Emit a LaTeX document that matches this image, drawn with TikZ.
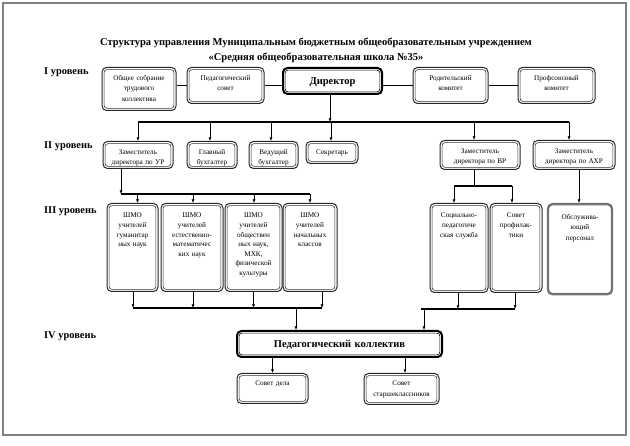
\documentclass[tikz,border=0pt]{standalone}
\usepackage{fontspec}
\setmainfont{Liberation Serif}
\usetikzlibrary{arrows.meta}
\tikzset{
  base/.style={rounded corners=4.5pt, align=center, font=\fontsize{7.2}{10.5}\selectfont},
  dbl/.style={base, draw=black!85, line width=1pt,
    append after command={\pgfextra{\draw[line width=0.6pt, black!80, rounded corners=3pt]
      ([shift={(2.6pt,-2.6pt)}]\tikzlastnode.north west) rectangle ([shift={(-2.6pt,2.6pt)}]\tikzlastnode.south east);}}},
  thk/.style={base, draw=black, line width=2pt, font=\bfseries\fontsize{10.5}{12}\selectfont,
    append after command={\pgfextra{\draw[line width=0.6pt, black, rounded corners=3pt]
      ([shift={(3.1pt,-3.1pt)}]\tikzlastnode.north west) rectangle ([shift={(-3.1pt,3.1pt)}]\tikzlastnode.south east);}}},
  gry/.style={base, draw=black!55, line width=2.4pt},
  small/.style={font=\fontsize{7.2}{9.6}\selectfont},
  mid/.style={font=\fontsize{7.2}{10.2}\selectfont},
  lvl/.style={font=\bfseries\fontsize{10.4}{12}\selectfont, anchor=west, inner sep=0pt},
  bus/.style={line width=1.5pt},
  ln/.style={line width=0.6pt},
  arr/.style={-{Latex[length=3.6pt,width=3pt]}},
}
\newcommand\mkbox[8]{%
  \pgfmathsetmacro\mkW{#4-#2}\pgfmathsetmacro\mkH{#5-#3}%
  \pgfmathsetmacro\mkX{(#2+#4)/2}\pgfmathsetmacro\mkTW{#4-#2-4}%
  \pgfmathsetmacro\mkTD{#5-#3-#6}%
  \node[#7, minimum width=\mkW pt, minimum height=\mkH pt, text width=\mkTW pt,
    text height=#6pt, text depth=\mkTD pt, inner ysep=0pt, inner xsep=2pt, anchor=north]
    (#1) at (\mkX,#3) {#8};}
\begin{document}
\begin{tikzpicture}[x=1pt,y=-1pt]
\useasboundingbox (0,0) rectangle (630,446);
\draw[black!50, line width=2.6pt] (3,3) rectangle (626,435);

\node[font=\bfseries\fontsize{10.5}{15}\selectfont, align=center] (title) at (316,50)
  {Структура управления Муниципальным бюджетным общеобразовательным учреждением\\«Средняя общеобразовательная школа №35»};

\node[lvl] (l1) at (44,72) {I уровень};
\node[lvl] (l2) at (44,146) {II уровень};
\node[lvl] (l3) at (44,211) {III уровень};
\node[lvl] (l4) at (44,336) {IV уровень};

% Level I
\mkbox{obs}{102}{67}{176}{110}{13}{dbl}{Общее собрание\\трудового\\коллектива}
\mkbox{ped}{187}{67}{264}{103}{13}{dbl}{Педагогический\\совет}
\mkbox{dir}{283}{67}{382}{93}{16.5}{thk}{Директор}
\mkbox{rod}{413}{67}{488}{103}{13}{dbl}{Родительский\\комитет}
\mkbox{prof}{518}{67}{595}{103}{13}{dbl}{Профсоюзный\\комитет}

% Level II
\mkbox{dUR}{103}{141}{173}{168}{13}{dbl}{Заместитель\\директора по УР}
\mkbox{glav}{187}{141}{237}{168}{13}{dbl}{Главный\\бухгалтер}
\mkbox{ved}{249}{141}{298}{168}{13}{dbl}{Ведущий\\бухгалтер}
\mkbox{sek}{306}{141}{358}{163}{13}{dbl}{Секретарь}
\mkbox{dVR}{440}{140}{520}{169}{13}{dbl}{Заместитель\\директора по ВР}
\mkbox{dAH}{533}{140}{615}{169}{13}{dbl}{Заместитель\\директора по АХР}

% Level III
\mkbox{s1}{107}{203}{158}{291}{14.5}{dbl,small}{ШМО\\учителей\\гуманитар\\ных наук}
\mkbox{s2}{161}{203}{223}{291}{14.5}{dbl,small}{ШМО\\учителей\\естественно-\\математичес\\ких наук}
\mkbox{s3}{225}{203}{282}{291}{14.5}{dbl,small}{ШМО\\учителей\\обществен\\ных наук,\\МХК,\\физической\\культуры}
\mkbox{s4}{283}{203}{337}{291}{14.5}{dbl,small}{ШМО\\учителей\\начальных\\классов}
\mkbox{soc}{430}{203}{488}{292}{14.5}{dbl,small}{Социально-\\педагогиче\\ская служба}
\mkbox{spr}{490}{203}{542}{292}{14.5}{dbl,small}{Совет\\профилак-\\тики}
\mkbox{obsl}{548}{203}{612}{293}{15.5}{gry,mid}{Обслужива-\\ющий\\персонал}

% Level IV
\mkbox{pk}{237}{330}{442}{356}{16.5}{thk}{Педагогический коллектив}
\mkbox{sd}{237}{373}{308}{403}{12.5}{dbl}{Совет дела}
\mkbox{ss}{364}{373}{439}{404}{12.5}{dbl}{Совет\\старшеклассников}

% Level I links
\draw[bus] (ped.west) -- (ped.west -| obs.east);
\draw[bus] (ped.east) -- (ped.east -| dir.west);
\draw[bus] (rod.west) -- (rod.west -| dir.east);
\draw[bus] (rod.east) -- (prof.west);

% Level II bus
\coordinate (b2l) at (138,122);
\coordinate (b2r) at (569,122);
\draw[bus] (b2l) -- (b2r);
\draw[ln,arr] ([xshift=-2.5pt]dir.south) -- ([xshift=-2.5pt]dir.south |- b2l);
\draw[ln,arr] (dUR.north |- b2l) -- (dUR.north);
\draw[ln,arr] ([xshift=-2pt]glav.north |- b2l) -- ([xshift=-2pt]glav.north);
\draw[ln,arr] ([xshift=-2.5pt]ved.north |- b2l) -- ([xshift=-2.5pt]ved.north);
\draw[ln,arr] ([xshift=-1pt]sek.north |- b2l) -- ([xshift=-1pt]sek.north);
\draw[ln,arr] ([xshift=-6pt]dVR.north |- b2l) -- ([xshift=-6pt]dVR.north);
\draw[ln,arr] (b2r) -- (b2r |- dAH.north);

% Level III left
\coordinate (b3l) at (121,194);
\coordinate (b3r) at (310,194);
\draw[ln,arr] ([xshift=-17pt]dUR.south) -- ([xshift=-17pt]dUR.south |- b3l);
\draw[bus] (b3l) -- (b3r);
\draw[ln,arr] ([xshift=5pt]s1.north |- b3l) -- ([xshift=5pt]s1.north);
\draw[ln,arr] ([xshift=1pt]s2.north |- b3l) -- ([xshift=1pt]s2.north);
\draw[ln,arr] ([xshift=0.5pt]s3.north |- b3l) -- ([xshift=0.5pt]s3.north);
\draw[ln,arr] (b3r) -- (b3r |- s4.north);

% Level III right
\coordinate (j1) at (474,186);
\coordinate (b5l) at (454,186);
\coordinate (b5r) at (512,186);
\draw[ln] ([xshift=-6pt]dVR.south) -- (j1);
\draw[bus] (b5l) -- (b5r);
\draw[ln,arr] (b5l) -- (b5l |- soc.north);
\draw[ln,arr] (b5r) -- (b5r |- spr.north);
\draw[ln,arr] ([xshift=5pt]dAH.south) -- ([xshift=5pt]dAH.south |- obsl.north);

% Bottom buses
\coordinate (b4l) at (133,308);
\coordinate (b4r) at (322,308);
\draw[ln,arr] ([xshift=0.5pt]s1.south) -- ([xshift=0.5pt]s1.south |- b4l);
\draw[ln,arr] ([xshift=1pt]s2.south) -- ([xshift=1pt]s2.south |- b4l);
\draw[ln,arr] (s3.south) -- (s3.south |- b4l);
\draw[ln,arr] ([xshift=12pt]s4.south) -- ([xshift=12pt]s4.south |- b4l);
\draw[bus] (b4l) -- (b4r);
\coordinate (c1) at (296,308);
\draw[ln,arr] (c1) -- (c1 |- pk.north);

\coordinate (b6l) at (421,309);
\coordinate (b6r) at (515,309);
\draw[ln,arr] ([xshift=-1pt]soc.south) -- ([xshift=-1pt]soc.south |- b6l);
\draw[ln,arr] ([xshift=-1pt]spr.south) -- ([xshift=-1pt]spr.south |- b6l);
\draw[bus] (b6l) -- (b6r);
\coordinate (c2) at (424,309);
\draw[ln,arr] (c2) -- (c2 |- pk.north);

% Level IV links
\draw[ln,arr] (sd.north |- pk.south) -- (sd.north);
\draw[ln,arr] ([xshift=3.5pt]ss.north |- pk.south) -- ([xshift=3.5pt]ss.north);
\end{tikzpicture}
\end{document}
